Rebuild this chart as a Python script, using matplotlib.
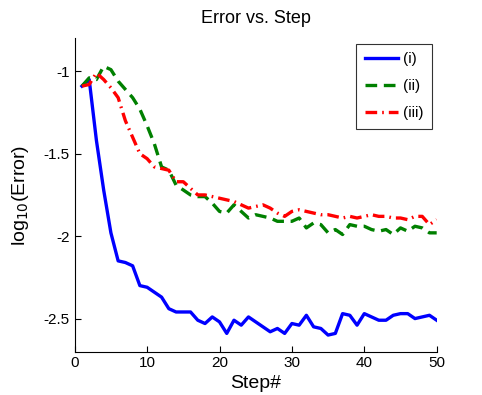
import numpy as np
import matplotlib
matplotlib.use('Agg')
from matplotlib import pyplot as plt

plt.rcParams['font.family'] = ['Liberation Sans', 'DejaVu Sans']

steps = np.arange(1, 51)

err_i = [-1.09, -1.05, -1.42, -1.72, -1.98, -2.15, -2.16, -2.18, -2.30, -2.31,
         -2.34, -2.37, -2.44, -2.46, -2.46, -2.46, -2.51, -2.53, -2.49, -2.52,
         -2.59, -2.51, -2.54, -2.49, -2.52, -2.55, -2.58, -2.56, -2.59, -2.53,
         -2.54, -2.48, -2.55, -2.56, -2.60, -2.59, -2.47, -2.48, -2.54, -2.47,
         -2.49, -2.51, -2.51, -2.48, -2.47, -2.47, -2.50, -2.49, -2.48, -2.51]

err_ii = [-1.09, -1.04, -1.05, -0.97, -0.99, -1.06, -1.11, -1.16, -1.23, -1.33,
          -1.44, -1.58, -1.60, -1.69, -1.72, -1.75, -1.76, -1.76, -1.80, -1.85,
          -1.86, -1.81, -1.85, -1.89, -1.87, -1.88, -1.89, -1.91, -1.91, -1.91,
          -1.89, -1.95, -1.92, -1.93, -1.98, -1.96, -1.99, -1.93, -1.94, -1.94,
          -1.96, -1.97, -1.96, -1.99, -1.95, -1.97, -1.94, -1.95, -1.98, -1.98]

err_iii = [-1.09, -1.08, -1.01, -1.05, -1.10, -1.16, -1.30, -1.40, -1.50, -1.53,
           -1.58, -1.59, -1.60, -1.67, -1.67, -1.71, -1.75, -1.75, -1.76, -1.77,
           -1.78, -1.79, -1.81, -1.83, -1.82, -1.81, -1.83, -1.86, -1.88, -1.85,
           -1.84, -1.85, -1.86, -1.87, -1.87, -1.88, -1.89, -1.88, -1.89, -1.88,
           -1.87, -1.88, -1.88, -1.89, -1.89, -1.90, -1.88, -1.88, -1.93, -1.90]

labels = ['(i)', '(ii)', '(iii)']

fig = plt.figure(figsize=(4.82, 3.95), dpi=100)
ax = fig.add_axes([0.155, 0.110, 0.751, 0.793])

ax.plot(steps, err_i, color='#0000ff', lw=2.4, ls='-', label=labels[0])
ax.plot(steps, err_ii, color='#008000', lw=2.4, ls=(0, (3.5, 2)), label=labels[1])
ax.plot(steps, err_iii, color='#ff0000', lw=2.4, ls=(0, (3.5, 1.5, 0.5, 1.5)), label=labels[2])

ax.set_xlim(0, 50)
ax.set_ylim(-2.7, -0.8)
ax.set_xticks([0, 10, 20, 30, 40, 50])
ax.set_yticks([-2.5, -2, -1.5, -1])
ax.set_yticklabels(['-2.5', '-2', '-1.5', '-1'])
ax.tick_params(direction='in', length=4, labelsize=11, width=0.8)
ax.spines['top'].set_visible(False)
ax.spines['right'].set_visible(False)

ax.set_title('Error vs. Step', fontsize=13, pad=11)
ax.set_xlabel('Step#', fontsize=14, labelpad=3)
ax.set_ylabel(r'log$_{10}$(Error)', fontsize=14, labelpad=9)

leg = ax.legend(loc='upper right', bbox_to_anchor=(0.986, 0.982), fontsize=11,
                handlelength=2.2, frameon=True, fancybox=False, edgecolor='black',
                borderpad=0.55, labelspacing=0.85, handletextpad=0.3, borderaxespad=0)
leg.get_frame().set_linewidth(0.8)

plt.savefig('out.png', dpi=100)
